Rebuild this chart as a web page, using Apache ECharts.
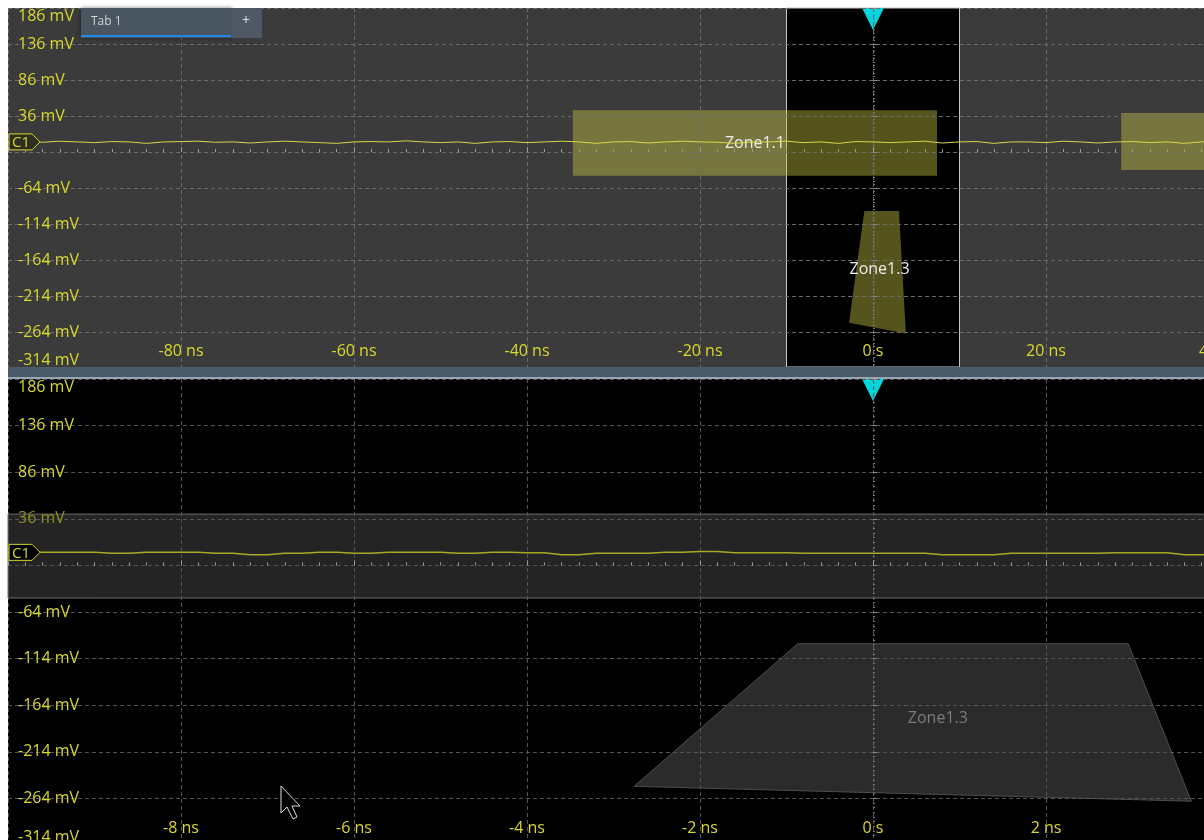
<!DOCTYPE html>
<html style="height: 100%">
<head>
    <meta charset="utf-8">
    <script src="https://cdn.jsdelivr.net/npm/echarts@6/dist/echarts.min.js"></script>
</head>
<body style="height: 100%; width: 100%; margin: 0; background-color: #ffffff;">

    <div id="container" style="width: 1204px; height: 840px;"></div>

    <script type="text/javascript">
        // time in ns, voltage in mV
        var voltsPerDiv = 50;
        var vOffset = 14;          // channel position offset, mV (ticks sit on -314, -264 ... 186)
        var yAxisRange = [-300, 200];

        var topTimeRange = [-100, 60];
        var topTimeStep = 20;
        var zoomTimeRange = [-10, 6];
        var zoomTimeStep = 2;

        // C1 acquisition, main window (sample every 2 ns from -100 ns)
        var topTraceStart = -100, topTraceStep = 2;
        var topTrace = [0, 0.5, -0.5, 1, 0, -1, 0.5, 0, -2, 0, 0.5, 1, -0.5, 0, -1.5, 0, 1, 0, -1, -2,
            0, 0.5, 0, 1.5, 0, -1, 0, -2, 0, 0.5, -1, 0, 1, 0, -2, 0, 0.5, -1.5, 0, 1,
            0, -0.5, -2, 0, 0, 1, -1, 0, -2, 0.5, 0, -1, 0, 1, -1.5, 0, 0.5, -2, 0, 0,
            -1, 1, 0, -1.5, 0, 0.5, -1, 0, -2, 0, 1];

        // C1 acquisition, zoom window (sample every 0.4 ns from -10 ns)
        var zoomTraceStart = -10, zoomTraceStep = 0.4;
        var zoomTrace = [0, 0, 0, -1, 0, 0, -1, -2.5, -1, 0, -1, 0, 0, -1, 0, -0.5, -2.5, -1, -1, 0,
            1, -0.5, -0.5, -1, -1, -1, -1, -2.5, -2.5, -1, -1, -1, -0.5, -0.5, -2.5, -1, -1, -1, -1, -1, -1];

        // search zones, [t, mV] vertices
        var zone11 = [[-34.7, 44], [7.4, 44], [7.4, -47], [-34.7, -47]];
        var zone11b = [[28.7, 40], [45, 40], [45, -39], [28.7, -39]];
        var zone13 = [[-1.0, -96], [3.0, -96], [3.8, -266], [-2.77, -251]];
        var zoomZone13 = [[-0.87, -98], [2.95, -98], [3.68, -267], [-2.76, -251]];
        var zoomBand = [41, -49];
        var zoomWindow = [-10, 10];
        var triggerTime = 0;

        var yellow = '#d9d92c';
        var zoneFill = 'rgba(205,200,70,0.42)';
        var fontFamily = 'Open Sans';

        function toAxis(mv) { return mv + vOffset; }

        var dom = document.getElementById("container");
        var myChart = echarts.init(dom);

        function yAxisCfg(gridIndex, gridColor, dimLabel) {
            return {
                type: 'value',
                gridIndex: gridIndex,
                min: yAxisRange[0],
                max: yAxisRange[1],
                interval: voltsPerDiv,
                z: 3,
                axisLine: { show: false },
                axisTick: { show: true, inside: true, length: 4, lineStyle: { color: '#8a8a8a' } },
                minorTick: { show: true, splitNumber: 10, length: 2, lineStyle: { color: '#777' } },
                splitLine: { show: true, lineStyle: { color: gridColor, type: [4, 3], width: 1 } },
                axisLabel: {
                    inside: true,
                    margin: 10,
                    color: yellow,
                    fontSize: 16,
                    fontFamily: fontFamily,
                    verticalAlignMaxLabel: 'top',
                    verticalAlignMinLabel: 'bottom',
                    formatter: function (v) {
                        var mv = v - vOffset;
                        if (mv === -vOffset) return '';
                        if (dimLabel && mv === 36) return '{dim|' + mv + ' mV}';
                        return mv + ' mV';
                    },
                    rich: { dim: { color: '#8f8f22', fontSize: 16, fontFamily: fontFamily } }
                }
            };
        }

        function xAxisCfg(gridIndex, range, step, gridColor) {
            return {
                type: 'value',
                gridIndex: gridIndex,
                min: range[0],
                max: range[1],
                interval: step,
                z: 3,
                axisLine: { show: false },
                axisTick: { show: true, inside: true, length: 5, lineStyle: { color: '#9a9a9a' } },
                minorTick: { show: true, splitNumber: 10, length: 3, lineStyle: { color: '#9a9a9a' } },
                splitLine: { show: true, lineStyle: { color: gridColor, type: [4, 3], width: 1 } },
                axisLabel: {
                    inside: true,
                    margin: 9,
                    showMinLabel: false,
                    color: yellow,
                    fontSize: 16,
                    fontFamily: fontFamily,
                    formatter: function (v) { return v === 0 ? '0 s' : v + ' ns'; }
                }
            };
        }

        function toPixels(api, pts) {
            return pts.map(function (p) { return api.coord([p[0], toAxis(p[1])]); });
        }

        function zoneItem(api, pts, fill, stroke, label, labelColor) {
            var px = toPixels(api, pts);
            var cx = 0, cy = 0;
            px.forEach(function (p) { cx += p[0]; cy += p[1]; });
            cx /= px.length; cy /= px.length;
            var children = [{
                type: 'polygon',
                shape: { points: px },
                style: { fill: fill, stroke: stroke, lineWidth: stroke ? 1 : 0 }
            }];
            if (label) {
                children.push({
                    type: 'text',
                    style: { text: label, x: cx, y: cy, align: 'center', verticalAlign: 'middle',
                        fill: labelColor, font: '16px "' + fontFamily + '"' }
                });
            }
            return { type: 'group', children: children };
        }

        function triggerItem(api) {
            var p = api.coord([triggerTime, yAxisRange[1]]);
            return {
                type: 'polygon',
                shape: { points: [[p[0] - 11, p[1]], [p[0] + 11, p[1]], [p[0], p[1] + 22]] },
                style: { fill: '#00d7e0' }
            };
        }

        function channelMarker(api, xMin, fill) {
            var p = api.coord([xMin, toAxis(0)]);
            var x = p[0], y = p[1];
            return {
                type: 'group',
                children: [{
                    type: 'polygon',
                    shape: { points: [[x + 1, y - 8], [x + 24, y - 8], [x + 32, y], [x + 24, y + 8], [x + 1, y + 8]] },
                    style: { fill: fill, stroke: yellow, lineWidth: 1 }
                }, {
                    type: 'text',
                    style: { text: 'C1', x: x + 4, y: y + 1, align: 'left', verticalAlign: 'middle',
                        fill: yellow, font: '15px "' + fontFamily + '"' }
                }]
            };
        }

        var option = {
            animation: false,
            backgroundColor: '#ffffff',
            grid: [
                { left: 8, top: 8, width: 1384, height: 360, outerBoundsMode: 'none', containLabel: false,
                  show: true, backgroundColor: '#3b3b3b', borderWidth: 0 },
                { left: 8, top: 379, width: 1384, height: 466, outerBoundsMode: 'none', containLabel: false,
                  show: true, backgroundColor: '#000000', borderWidth: 0 }
            ],
            xAxis: [
                xAxisCfg(0, topTimeRange, topTimeStep, '#6c6c6c'),
                xAxisCfg(1, zoomTimeRange, zoomTimeStep, '#555555')
            ],
            yAxis: [
                yAxisCfg(0, '#6c6c6c', false),
                yAxisCfg(1, '#555555', true)
            ],
            series: [
                {
                    // zoom window box in the main view
                    type: 'custom', xAxisIndex: 0, yAxisIndex: 0, z: 1,
                    data: [zoomWindow],
                    renderItem: function (params, api) {
                        var a = api.coord([api.value(0), yAxisRange[1]]);
                        var b = api.coord([api.value(1), yAxisRange[0]]);
                        return {
                            type: 'rect',
                            shape: { x: a[0], y: a[1], width: b[0] - a[0], height: b[1] - a[1] - 1 },
                            style: { fill: '#000000', stroke: '#c4c4c4', lineWidth: 1 }
                        };
                    }
                },
                {
                    type: 'custom', xAxisIndex: 0, yAxisIndex: 0, z: 2,
                    data: [0, 1, 2, 3],
                    renderItem: function (params, api) {
                        var i = params.dataIndex;
                        if (i === 0) return zoneItem(api, zone11, zoneFill, null, 'Zone1.1', '#ececec');
                        if (i === 1) return zoneItem(api, zone11b, zoneFill, null, '', '');
                        if (i === 2) return zoneItem(api, zone13, zoneFill, null, 'Zone1.3', '#ececec');
                        return triggerItem(api);
                    }
                },
                {
                    name: 'C1',
                    type: 'line', xAxisIndex: 0, yAxisIndex: 0, z: 5,
                    showSymbol: false,
                    lineStyle: { color: '#d8d84a', width: 1 },
                    data: topTrace.map(function (v, i) { return [topTraceStart + i * topTraceStep, toAxis(v)]; })
                },
                {
                    type: 'custom', xAxisIndex: 0, yAxisIndex: 0, z: 6,
                    data: [0],
                    renderItem: function (params, api) { return channelMarker(api, topTimeRange[0], '#2e2e22'); }
                },
                {
                    type: 'custom', xAxisIndex: 1, yAxisIndex: 1, z: 1,
                    data: [0],
                    renderItem: function (params, api) {
                        var a = api.coord([zoomTimeRange[0], toAxis(zoomBand[0])]);
                        var b = api.coord([zoomTimeRange[1], toAxis(zoomBand[1])]);
                        return {
                            type: 'rect',
                            shape: { x: a[0], y: a[1], width: b[0] - a[0], height: b[1] - a[1] },
                            style: { fill: '#242424', stroke: '#6e6e6e', lineWidth: 1 }
                        };
                    }
                },
                {
                    type: 'custom', xAxisIndex: 1, yAxisIndex: 1, z: 2,
                    data: [0, 1],
                    renderItem: function (params, api) {
                        if (params.dataIndex === 0) return zoneItem(api, zoomZone13, '#2b2b2b', '#4e4e4e', 'Zone1.3', '#7c7c7c');
                        return triggerItem(api);
                    }
                },
                {
                    name: 'C1 zoom',
                    type: 'line', xAxisIndex: 1, yAxisIndex: 1, z: 5,
                    showSymbol: false,
                    step: 'middle',
                    lineStyle: { color: '#a9a925', width: 1.5 },
                    data: zoomTrace.map(function (v, i) { return [zoomTraceStart + i * zoomTraceStep, toAxis(v)]; })
                },
                {
                    type: 'custom', xAxisIndex: 1, yAxisIndex: 1, z: 6,
                    data: [0],
                    renderItem: function (params, api) { return channelMarker(api, zoomTimeRange[0], '#000000'); }
                }
            ],
            graphic: [
                // splitter between main and zoom views
                { type: 'rect', z: 50, shape: { x: 8, y: 367, width: 1196, height: 10 }, style: { fill: '#4a5a68' } },
                { type: 'rect', z: 50, shape: { x: 8, y: 377, width: 1196, height: 2 }, style: { fill: '#9aa6b0' } },
                // tab strip
                { type: 'rect', z: 50, shape: { x: 81, y: 8, width: 151, height: 30 }, style: { fill: '#4a5562', shadowBlur: 4, shadowColor: 'rgba(0,0,0,0.5)' } },
                { type: 'rect', z: 50, shape: { x: 232, y: 8, width: 30, height: 30 }, style: { fill: '#4f5965' } },
                { type: 'rect', z: 51, shape: { x: 81, y: 35, width: 150, height: 2 }, style: { fill: '#1e88e5' } },
                { type: 'text', z: 51, style: { text: 'Tab 1', x: 91, y: 22, verticalAlign: 'middle', fill: '#cfd4d9', font: '12px "' + fontFamily + '"' } },
                { type: 'text', z: 51, style: { text: '+', x: 246, y: 21, align: 'center', verticalAlign: 'middle', fill: '#d8dce0', font: '14px "' + fontFamily + '"' } },
                // mouse pointer
                { type: 'polygon', z: 60, shape: { points: [[281, 786], [281, 813], [287, 807], [293, 819], [297, 817], [292, 806], [300, 806]] }, style: { fill: '#000000', stroke: '#dcdcdc', lineWidth: 1 } }
            ]
        };

        if (option && typeof option === "object") {
            myChart.setOption(option, true);
        }
    </script>
</body>
</html>
